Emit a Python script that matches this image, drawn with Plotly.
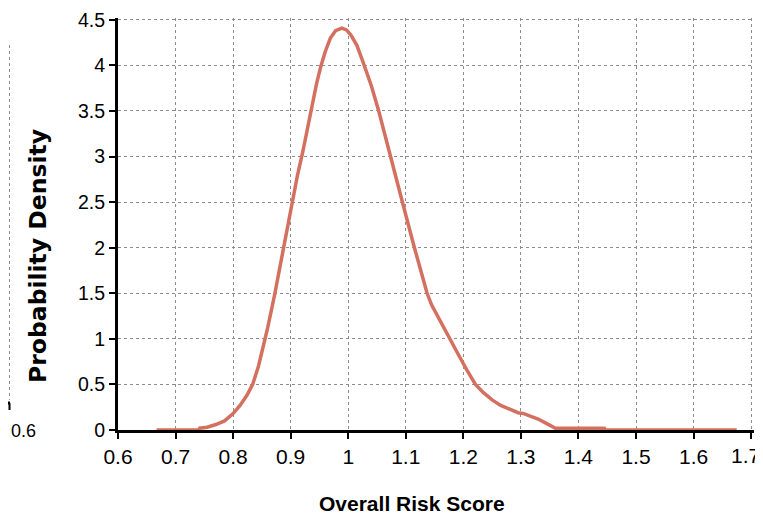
import plotly.graph_objects as go

# Density curve
risk_score = [0.667, 0.740, 0.742, 0.755, 0.770, 0.785, 0.800, 0.812, 0.824, 0.834,
              0.844, 0.852, 0.860, 0.872, 0.886, 0.902, 0.912, 0.921, 0.935, 0.945,
              0.952, 0.960, 0.969, 0.978, 0.989, 0.997, 1.005, 1.015, 1.025, 1.040,
              1.053, 1.073, 1.095, 1.115, 1.127, 1.137, 1.145, 1.155, 1.165, 1.177,
              1.192, 1.206, 1.221, 1.235, 1.250, 1.265, 1.282, 1.295, 1.305, 1.318,
              1.330, 1.345, 1.355, 1.360, 1.445, 1.447, 1.675]
density = [0.0, 0.0, 0.02, 0.03, 0.06, 0.10, 0.18, 0.27, 0.38, 0.50,
           0.70, 0.90, 1.12, 1.48, 1.95, 2.50, 2.80, 3.05, 3.50, 3.80,
           3.98, 4.15, 4.30, 4.38, 4.41, 4.39, 4.33, 4.22, 4.05, 3.78,
           3.50, 3.00, 2.48, 2.00, 1.72, 1.50, 1.37, 1.25, 1.14, 1.00,
           0.82, 0.66, 0.50, 0.41, 0.33, 0.27, 0.22, 0.19, 0.18, 0.15,
           0.12, 0.07, 0.03, 0.02, 0.02, 0.0, 0.0]

x_ticks = [0.6, 0.7, 0.8, 0.9, 1.0, 1.1, 1.2, 1.3, 1.4, 1.5, 1.6, 1.7]
y_ticks = [0, 0.5, 1, 1.5, 2, 2.5, 3, 3.5, 4, 4.5]

# page body has an 8px margin, so the figure is offset by 8px
OFF = 8
W, H = 763 - OFF, 516 - OFF
ML, MR, MT, MB = 118 - OFF, 9, 18 - OFF, 86
PW, PH = W - ML - MR, H - MT - MB

def px(xp):  # window pixel -> paper
    return (xp - OFF - ML) / PW

def py(yp):
    return (H - MB - (yp - OFF)) / PH

font_main = "Liberation Sans, Arial, sans-serif"
x_font = dict(family=font_main, size=21, color="black")

fig = go.Figure()
fig.add_trace(go.Scatter(
    x=risk_score, y=density, mode="lines",
    line=dict(color="#d4705f", width=3.5),
    cliponaxis=False, showlegend=False, hoverinfo="x+y"))

axis_common = dict(
    showline=True, linecolor="black", linewidth=3,
    ticks="outside", ticklen=6, tickwidth=2, tickcolor="black",
    showgrid=True, gridcolor="#8c8c8c", gridwidth=1, griddash="dot",
    zeroline=False, layer="below traces", automargin=False,
    ticklabeloverflow="allow",
)

# last x label is placed as an annotation so it stays inside the page edge
x_text = [f"{v:g}" for v in x_ticks[:-1]] + [""]

fig.update_layout(
    width=W, height=H,
    margin=dict(l=ML, r=MR, t=MT, b=MB),
    paper_bgcolor="white", plot_bgcolor="white",
    xaxis=dict(range=[0.6, 1.705], tickvals=x_ticks, ticktext=x_text,
               tickfont=x_font, **axis_common),
    yaxis=dict(range=[0, 4.52], tickvals=y_ticks, ticktext=[f"{v:g}" for v in y_ticks],
               tickfont=dict(family=font_main, size=19.5, color="black"),
               **axis_common),
)

fig.add_annotation(text=f"{x_ticks[-1]:g}", xref="paper", yref="paper",
                   x=px(762), y=py(455), xanchor="right", yanchor="middle",
                   showarrow=False, font=x_font)

# Axis titles
fig.add_annotation(text="<b>Overall Risk Score</b>", xref="paper", yref="paper",
                   x=px(412), y=py(503), xanchor="center", yanchor="middle",
                   showarrow=False, font=dict(family=font_main, size=21, color="black"))
fig.add_annotation(text="<b>Probability Density</b>", xref="paper", yref="paper",
                   x=px(38), y=py(256), xanchor="center", yanchor="middle", textangle=-90,
                   showarrow=False, font=dict(family="DejaVu Sans", size=23.5, color="black"))

# Cropped remnant of neighbouring panel at the far left
grey_dot = dict(color="#8c8c8c", width=1, dash="dot")
shapes = [dict(type="line", xref="paper", yref="paper", x0=px(9.5), x1=px(9.5),
               y0=py(45), y1=py(400), line=grey_dot)]
shapes.append(dict(type="line", xref="paper", yref="paper", x0=px(8), x1=px(10),
                   y0=py(403), y1=py(403), line=dict(color="black", width=3)))
shapes.append(dict(type="line", xref="paper", yref="paper", x0=px(9.5), x1=px(9.5),
                   y0=py(403), y1=py(410), line=dict(color="black", width=2)))
fig.update_layout(shapes=shapes)
fig.add_annotation(text="0.6", xref="paper", yref="paper", x=px(9), y=py(431),
                   xanchor="left", yanchor="middle", showarrow=False,
                   font=dict(family=font_main, size=18, color="black"))

fig.write_html("out.html")
